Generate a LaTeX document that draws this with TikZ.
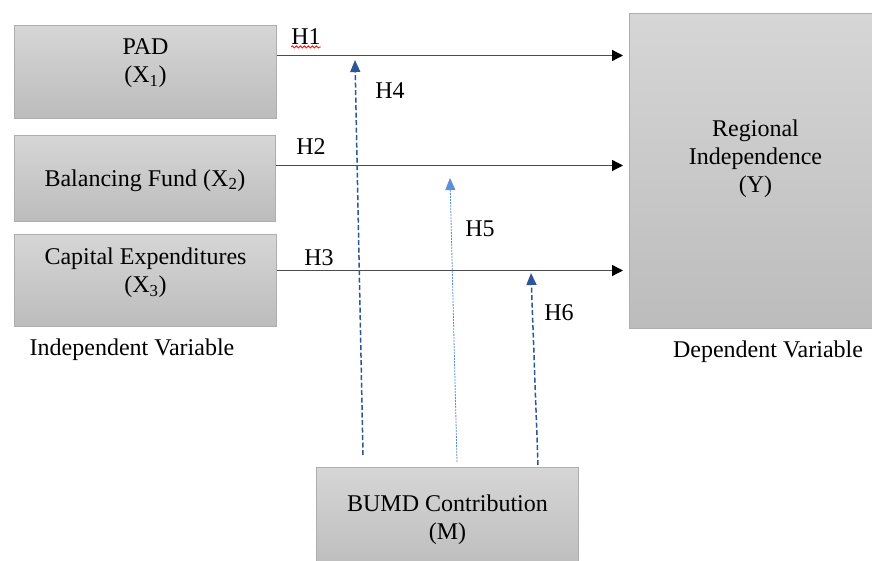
\documentclass[tikz,border=0pt]{standalone}
\usepackage{fontspec}
\setmainfont{Liberation Serif}
\usetikzlibrary{arrows.meta,decorations.pathmorphing}
\definecolor{boxtop}{HTML}{D6D6D6}
\definecolor{boxbot}{HTML}{BCBCBC}
\definecolor{boxline}{HTML}{AEAEAE}
\definecolor{darkblue}{HTML}{2E5597}
\definecolor{lightblue}{HTML}{5B8FD6}
\tikzset{
  varbox/.style={draw=boxline,line width=1pt,top color=boxtop,bottom color=boxbot,anchor=north west,inner sep=0pt},
  boxtxt/.style={align=center,inner sep=0pt},
  hpath/.style={draw=black!70,line width=1.3pt,-{Triangle[length=11pt,width=11pt,color=black]},shorten >=6pt},
  modpath/.style={draw=darkblue,line width=1.5pt,dash pattern=on 5pt off 2.5pt,-{Triangle[length=12pt,width=10pt]}},
  modlight/.style={draw=lightblue,line width=0.8pt,dash pattern=on 2pt off 1pt,-{Triangle[length=12pt,width=10pt]}},
  hlabel/.style={inner sep=0pt},
  spellmark/.style={draw=red,line width=0.8pt,decorate,decoration={snake,segment length=4pt,amplitude=1.1pt}}
}

\begin{document}
\begin{tikzpicture}[x=1pt,y=-1pt,every node/.style={font=\fontsize{24}{28}\selectfont}]
\clip (0,0) rectangle (872,561);
\node[varbox,minimum width=262pt,minimum height=93pt,label={[boxtxt,yshift=9pt]center:PAD\\(X\textsubscript{1})}] (pad) at (14,25) {};
\node[varbox,minimum width=261pt,minimum height=86pt,label={[boxtxt,yshift=-2pt]center:Balancing Fund (X\textsubscript{2})}] (fund) at (14,135) {};
\node[varbox,minimum width=262pt,minimum height=92pt,label={[boxtxt,yshift=8pt]center:Capital Expenditures\\(X\textsubscript{3})}] (capex) at (14,234) {};
\node[varbox,minimum width=252pt,minimum height=315pt,label={[boxtxt,yshift=12.5pt]center:Regional\\Independence\\(Y)}] (regional) at (629,13) {};
\node[varbox,minimum width=262pt,minimum height=104pt,label={[boxtxt]center:BUMD Contribution\\(M)}] (bumd) at (316,467) {};

\draw[hpath] ([yshift=16.5pt]pad.east) -- ([yshift=16.5pt]pad.east -| regional.west);
\draw[hpath] ([yshift=13pt]fund.east) -- ([yshift=13pt]fund.east -| regional.west);
\draw[hpath] ([yshift=10pt]capex.east) -- ([yshift=10pt]capex.east -| regional.west);

\coordinate (t4) at (355,60);
\coordinate (t5) at (450,178);
\coordinate (t6) at (531,273);
\draw[modpath] ([shift={(47pt,12pt)}]bumd.north west) -- (t4);
\draw[modlight] ([shift={(141pt,5pt)}]bumd.north west) -- (t5);
\draw[modpath] ([shift={(222pt,2pt)}]bumd.north west) -- (t6);

\node[hlabel] (h1) at (306,37) {H1};
\node[hlabel] (h2) at (311,147) {H2};
\node[hlabel] (h3) at (319,258) {H3};
\node[hlabel] (h4) at (390,91) {H4};
\node[hlabel] (h5) at (480,229) {H5};
\node[hlabel] (h6) at (559,313) {H6};
\draw[spellmark] ([yshift=-2pt]h1.base west) -- ([yshift=-2pt]h1.base east);

\node (indep) at (132,350) {Independent Variable};
\node (dep) at (768,352) {Dependent Variable};
\end{tikzpicture}
\end{document}
